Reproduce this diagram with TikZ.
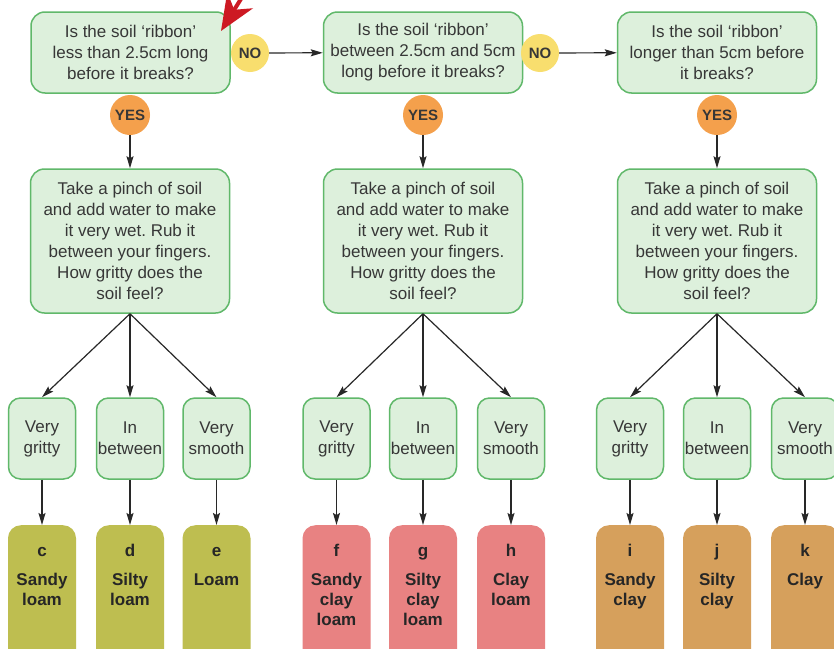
\documentclass[tikz,border=0pt]{standalone}
\usepackage{fontspec}
\setmainfont{Liberation Sans}
\frenchspacing
\usetikzlibrary{arrows}
\usetikzlibrary{arrows.meta}

\definecolor{boxgreen}{RGB}{221,240,220}
\definecolor{edgegreen}{RGB}{96,184,106}
\definecolor{noyellow}{RGB}{248,222,110}
\definecolor{yesorange}{RGB}{244,160,76}
\definecolor{loamolive}{RGB}{190,190,80}
\definecolor{clayloampink}{RGB}{232,130,130}
\definecolor{claytan}{RGB}{214,160,92}
\definecolor{inkgray}{RGB}{55,55,55}
\definecolor{linegray}{RGB}{40,40,40}
\definecolor{markred}{RGB}{205,25,35}

\begin{document}
\begin{tikzpicture}[x=1pt, y=-1pt,
  question/.style={rectangle, rounded corners=14pt, draw=edgegreen, line width=1.5pt, fill=boxgreen, text=inkgray, align=center, minimum width=199pt, minimum height=81pt, font=\fontsize{17}{21}\selectfont},
  pinch/.style={question, minimum height=144pt},
  feel/.style={question, rounded corners=12pt, minimum width=67pt, minimum height=81pt, inner xsep=1pt},
  nobubble/.style={circle, fill=noyellow, minimum size=38pt, inner sep=0pt, text=inkgray, font=\bfseries\fontsize{15}{15}\selectfont},
  yesbubble/.style={nobubble, fill=yesorange, minimum size=40pt},
  soiltype/.style={rectangle, rounded corners=13pt, anchor=north, inner xsep=4pt, inner ysep=17pt, text=black!85, font=\bfseries\fontsize{17}{20}\selectfont},
  link/.style={-{Stealth[length=12pt, width=7pt, inset=2pt]}, draw=linegray, line width=1.2pt}
]

\def\soil#1#2{\parbox[t][120pt][t]{60pt}{\centering\strut#1\\[9pt]#2}}

\useasboundingbox[fill=white] (0,0) rectangle (834,648);

% questions about the ribbon
\node[question] (Q1) at (130.5,52.5) {Is the soil `ribbon'\\less than 2.5cm long\\before it breaks?};
\node[question] (Q2) at (423,52.5) {Is the soil `ribbon'\\between 2.5cm and 5cm\\long before it breaks?};
\node[question] (Q3) at (717,52.5) {Is the soil `ribbon'\\longer than 5cm before\\it breaks?};

\node[nobubble] (N1) at (250,53) {NO};
\node[nobubble] (N2) at (540,53) {NO};

\node[yesbubble] (Y1) at (130,115) {YES};
\node[yesbubble] (Y2) at (423,115) {YES};
\node[yesbubble] (Y3) at (717,115) {YES};

% pinch test
\node[pinch] (P1) at (130,241) {Take a pinch of soil\\and add water to make\\it very wet. Rub it\\between your fingers.\\How gritty does the\\soil feel?};
\node[pinch] (P2) at (423,241) {Take a pinch of soil\\and add water to make\\it very wet. Rub it\\between your fingers.\\How gritty does the\\soil feel?};
\node[pinch] (P3) at (717,241) {Take a pinch of soil\\and add water to make\\it very wet. Rub it\\between your fingers.\\How gritty does the\\soil feel?};

% how it feels
\node[feel] (F1a) at (42,438.5) {Very\\gritty};
\node[feel] (F1b) at (130,438.5) {In\\between};
\node[feel] (F1c) at (216.5,438.5) {Very\\smooth};
\node[feel] (F2a) at (336.5,438.5) {Very\\gritty};
\node[feel] (F2b) at (423,438.5) {In\\between};
\node[feel] (F2c) at (511,438.5) {Very\\smooth};
\node[feel] (F3a) at (630,438.5) {Very\\gritty};
\node[feel] (F3b) at (717,438.5) {In\\between};
\node[feel] (F3c) at (805,438.5) {Very\\smooth};

% soil types
\node[soiltype, fill=loamolive] (S1a) at (42,525) {\soil{c}{Sandy\\loam}};
\node[soiltype, fill=loamolive] (S1b) at (130,525) {\soil{d}{Silty\\loam}};
\node[soiltype, fill=loamolive] (S1c) at (216.5,525) {\soil{e}{Loam}};
\node[soiltype, fill=clayloampink] (S2a) at (336.5,525) {\soil{f}{Sandy\\clay\\loam}};
\node[soiltype, fill=clayloampink] (S2b) at (423,525) {\soil{g}{Silty\\clay\\loam}};
\node[soiltype, fill=clayloampink] (S2c) at (511,525) {\soil{h}{Clay\\loam}};
\node[soiltype, fill=claytan] (S3a) at (630,525) {\soil{i}{Sandy\\clay}};
\node[soiltype, fill=claytan] (S3b) at (717,525) {\soil{j}{Silty\\clay}};
\node[soiltype, fill=claytan] (S3c) at (805,525) {\soil{k}{Clay}};

\draw[link] (N1) -- (Q2);
\draw[link] (N2) -- (Q3);
\draw[link] (Y1) -- (P1);
\draw[link] (Y2) -- (P2);
\draw[link] (Y3) -- (P3);

\draw[link] (P1.south) -- (F1a.north);
\draw[link] (P1.south) -- (F1b.north);
\draw[link] (P1.south) -- (F1c.north);
\draw[link] (P2.south) -- (F2a.north);
\draw[link] (P2.south) -- (F2b.north);
\draw[link] (P2.south) -- (F2c.north);
\draw[link] (P3.south) -- (F3a.north);
\draw[link] (P3.south) -- (F3b.north);
\draw[link] (P3.south) -- (F3c.north);

\draw[link] (F1a) -- (S1a);
\draw[link] (F1b) -- (S1b);
\draw[link] (F1c) -- (S1c);
\draw[link] (F2a) -- (S2a);
\draw[link] (F2b) -- (S2b);
\draw[link] (F2c) -- (S2c);
\draw[link] (F3a) -- (S3a);
\draw[link] (F3b) -- (S3b);
\draw[link] (F3c) -- (S3c);

% red marker
\coordinate (mark tip) at (221,31);
\coordinate (mark tail) at (254,-22);
\draw[markred, line width=4pt, -{Stealth[length=36pt, width=30pt, inset=11pt]}] (mark tail) -- (mark tip);

\end{tikzpicture}
\end{document}
